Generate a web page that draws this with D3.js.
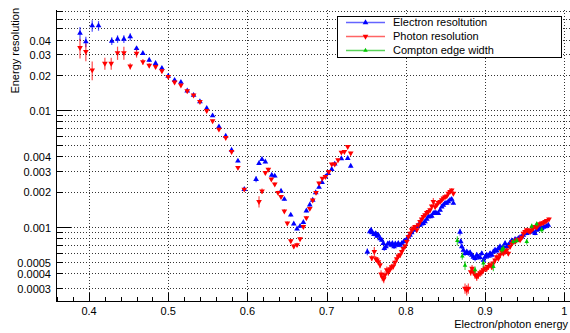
<!DOCTYPE html>
<html><head><meta charset="utf-8">
<script src="https://cdn.jsdelivr.net/npm/d3@7"></script>
<style>body{margin:0;background:#fff}svg{display:block}text{font-family:"Liberation Sans",Arial,sans-serif;fill:#000}</style>
</head><body>
<script>
// [energy, resolution, error]
const electron = [
[0.3886,0.0455,0.006],[0.396,0.0385,0.004],[0.404,0.0528,0.006],[0.412,0.0528,0.005],
[0.4287,0.039,0.003],[0.436,0.0406,0.003],[0.444,0.0406,0.003],[0.452,0.0425,0.003],
[0.460,0.0337,0.0015],[0.468,0.0306,0.001],[0.476,0.0268,0.001],[0.484,0.0251,0.001],
[0.492,0.0228,0.0008],[0.500,0.0195,0.0006],[0.508,0.0180,0.0006],[0.516,0.0173,0.0005],
[0.524,0.0146,0.0004],[0.532,0.0134,0.0004],[0.540,0.0118,0.0003],[0.5486,0.01034,0.0003],
[0.556,0.00894,0.0002],[0.564,0.00719,0.0002],[0.5726,0.00598,0.00015],[0.580,0.00454,0.0001],
[0.588,0.00366,0.0001],[0.596,0.00209,0.00006],
[0.6109,0.00255,0.00015],[0.6146,0.00349,0.0001],[0.6184,0.00378,0.0001],[0.6226,0.0036,0.0001],
[0.6307,0.00277,0.00008],[0.6345,0.00272,0.00008],[0.6424,0.00202,0.00006],[0.6466,0.00172,0.00005],
[0.6547,0.00126,0.00004],[0.6585,0.00106,0.00003],[0.6626,0.00096,0.00003],[0.6664,0.00101,0.00003],
[0.6706,0.00109,0.00003],[0.6744,0.00137,0.00004],[0.6787,0.00154,0.00004],[0.6824,0.00169,0.00005],
[0.6862,0.00196,0.00005],[0.6904,0.00218,0.00006],[0.6942,0.0024,0.00006],[0.6984,0.00268,0.00007],
[0.7021,0.00287,0.00007],[0.7064,0.0031,0.00008],[0.7102,0.00345,0.00009],[0.7186,0.00383,0.0001],
[0.7266,0.00386,0.0001],[0.7304,0.00331,0.0001],
[0.7514,0.00061,0.00004],[0.7544,0.000906,0.00004],[0.7561,0.000937,0.00003],[0.7577,0.000888,0.00003],
[0.7598,0.00086,0.00003],[0.762,0.000875,0.00003],[0.7636,0.00083,0.00003],[0.7653,0.000849,0.00003],
[0.7674,0.00079,0.00003],[0.7696,0.000769,0.00003],[0.7716,0.00072,0.00003],[0.7728,0.000652,0.00003],
[0.7749,0.000675,0.00003],[0.7771,0.000712,0.00003],[0.7792,0.00072,0.00003],[0.7813,0.000697,0.00003],
[0.783,0.00072,0.00003],[0.7851,0.000675,0.00003],[0.7867,0.000712,0.00003],[0.7889,0.000697,0.00003],
[0.7905,0.00072,0.00003],[0.7927,0.000697,0.00003],[0.7948,0.00072,0.00003],[0.7973,0.000745,0.00003],
[0.799,0.000755,0.00003],[0.8011,0.000781,0.00003],[0.8032,0.00082,0.00003],[0.8053,0.000849,0.00003],
[0.8074,0.000888,0.00003],[0.8095,0.000937,0.00003],[0.8116,0.00095,0.00003],[0.8138,0.001,0.00003],
[0.8158,0.001034,0.00003],[0.8179,0.001034,0.00003],[0.82,0.001055,0.00003],[0.8221,0.00107,0.00003],
[0.8242,0.001105,0.00003],[0.8264,0.00116,0.00003],[0.8284,0.00122,0.00004],[0.8306,0.00122,0.00004],
[0.8327,0.001235,0.00004],[0.8347,0.0013,0.00004],[0.8369,0.00132,0.00004],[0.839,0.0013,0.00004],
[0.841,0.0013,0.00004],[0.8432,0.00139,0.00004],[0.8453,0.00148,0.00004],[0.8473,0.001534,0.00004],
[0.8495,0.00159,0.00004],[0.8516,0.00159,0.00004],[0.8536,0.00164,0.00004],[0.8558,0.001694,0.00004],
[0.8579,0.00172,0.00004],[0.86,0.00159,0.00004],
[0.8684,0.0009,0.00006],[0.8693,0.000745,0.00004],[0.8706,0.000675,0.00003],[0.8726,0.000631,0.00003],
[0.8747,0.00059,0.00003],[0.8769,0.00061,0.00003],[0.8789,0.00059,0.00003],[0.8811,0.0006,0.00003],
[0.8832,0.000572,0.00003],[0.8852,0.00055,0.00003],[0.8874,0.000535,0.00003],[0.8895,0.000572,0.00003],
[0.8916,0.00055,0.00003],[0.8937,0.000545,0.00003],[0.8958,0.00059,0.00003],[0.8979,0.000518,0.00003],
[0.9,0.00055,0.00003],[0.9021,0.000572,0.00003],[0.9042,0.00056,0.00003],[0.9063,0.00059,0.00003],
[0.9085,0.000572,0.00003],[0.9105,0.00061,0.00003],[0.9126,0.000631,0.00003],[0.9148,0.00062,0.00003],
[0.9168,0.000652,0.00003],[0.9189,0.000675,0.00003],[0.9211,0.000652,0.00003],[0.9231,0.000675,0.00003],
[0.9253,0.00072,0.00003],[0.9274,0.000675,0.00003],[0.9294,0.000697,0.00003],[0.9316,0.00073,0.00003],
[0.9337,0.00076,0.00003],[0.9357,0.000745,0.00003],[0.9379,0.00078,0.00003],[0.94,0.000769,0.00003],
[0.942,0.000795,0.00003],[0.9442,0.00081,0.00003],[0.9463,0.00082,0.00003],[0.9483,0.000849,0.00003],
[0.9505,0.000875,0.00003],[0.9526,0.000875,0.00003],[0.9546,0.000888,0.00003],[0.9568,0.000906,0.00003],
[0.9589,0.000906,0.00003],[0.9609,0.000906,0.00003],[0.9631,0.000875,0.00003],[0.9652,0.000937,0.00003],
[0.9672,0.00095,0.00003],[0.9694,0.00097,0.00003],[0.9715,0.00097,0.00003],[0.9735,0.00099,0.00003],
[0.9757,0.001,0.00003],[0.9778,0.00101,0.00003],[0.9798,0.001034,0.00003]
];
const photon = [
[0.3886,0.0342,0.0066],[0.396,0.0317,0.0055],[0.404,0.022,0.004],[0.420,0.0251,0.003],
[0.428,0.0251,0.003],[0.436,0.0309,0.004],[0.444,0.0309,0.004],[0.452,0.0237,0.0015],
[0.460,0.0306,0.0025],[0.468,0.0259,0.0015],[0.476,0.0241,0.001],[0.484,0.0235,0.001],
[0.492,0.0216,0.0008],[0.500,0.0193,0.0006],[0.508,0.0173,0.0006],[0.516,0.0163,0.0005],
[0.524,0.01455,0.0004],[0.532,0.0134,0.0004],[0.540,0.0118,0.0003],[0.5486,0.00986,0.0003],
[0.556,0.00805,0.0002],[0.564,0.00683,0.0002],[0.5726,0.00579,0.00015],[0.580,0.0044,0.0001],
[0.588,0.00321,0.0001],[0.596,0.00209,0.00006],
[0.6146,0.00164,0.00018],[0.6184,0.00202,0.0001],[0.6226,0.0029,0.0001],[0.6264,0.0031,0.0001],
[0.6302,0.00255,0.00008],[0.6345,0.00231,0.00008],[0.6386,0.00196,0.00007],[0.6424,0.00181,0.00006],
[0.6466,0.00136,0.00005],[0.6504,0.00107,0.00004],[0.6547,0.000754,0.00003],[0.6585,0.00068,0.00003],
[0.6626,0.0007,0.00003],[0.6664,0.000785,0.00003],[0.6706,0.001,0.00004],[0.6744,0.00119,0.00004],
[0.6787,0.00143,0.00005],[0.6824,0.00169,0.00005],[0.6866,0.00196,0.00006],[0.6904,0.00236,0.00007],
[0.6946,0.0026,0.00007],[0.6984,0.00268,0.00008],[0.7027,0.00296,0.00009],[0.7064,0.00343,0.0001],
[0.7102,0.00343,0.0001],[0.7144,0.00373,0.00011],[0.7186,0.00434,0.00012],[0.7224,0.0044,0.00012],
[0.7266,0.00485,0.00013],[0.7304,0.00426,0.00012],
[0.757,0.00054,0.00003],[0.7602,0.00061,0.00006],[0.762,0.00053,0.00003],[0.7636,0.000518,0.00003],
[0.7653,0.0005,0.00003],[0.7674,0.00047,0.00003],[0.7687,0.000393,0.00003],[0.7703,0.00037,0.00003],
[0.7721,0.000357,0.00003],[0.7737,0.000386,0.00003],[0.7759,0.000426,0.00003],[0.7779,0.00041,0.00003],
[0.78,0.000435,0.00003],[0.7822,0.000452,0.00003],[0.7842,0.00046,0.00003],[0.7863,0.000495,0.00003],
[0.7885,0.00053,0.00003],[0.7905,0.00056,0.00003],[0.7927,0.000572,0.00003],[0.7948,0.00061,0.00003],
[0.7968,0.00065,0.00003],[0.799,0.00068,0.00003],[0.8011,0.000745,0.00004],[0.8032,0.00082,0.00004],
[0.8053,0.000875,0.00004],[0.8074,0.000937,0.00004],[0.8095,0.00097,0.00004],[0.8116,0.001,0.00004],
[0.8138,0.000937,0.00004],[0.8158,0.001034,0.00004],[0.8179,0.001105,0.00005],[0.82,0.00116,0.00005],
[0.8221,0.00122,0.00005],[0.8242,0.00126,0.00005],[0.8264,0.00132,0.00005],[0.8284,0.001345,0.00005],
[0.8306,0.00139,0.00006],[0.8327,0.0015,0.00006],[0.8347,0.00164,0.00012],[0.8369,0.00148,0.00006],
[0.839,0.001534,0.00006],[0.841,0.00161,0.00006],[0.8432,0.00164,0.00006],[0.8453,0.001694,0.00007],
[0.8473,0.00176,0.00007],[0.8495,0.0018,0.00007],[0.8516,0.00183,0.00007],[0.8536,0.00193,0.00008],
[0.8558,0.002,0.00008],[0.8579,0.00206,0.00008],[0.86,0.00193,0.00008],
[0.8747,0.000296,0.00003],[0.8769,0.000287,0.00003],[0.8789,0.000296,0.00003],[0.8819,0.00041,0.00003],
[0.8836,0.00044,0.00003],[0.8852,0.00041,0.00003],[0.8874,0.000386,0.00003],[0.8895,0.000373,0.00003],
[0.8916,0.000386,0.00003],[0.8937,0.0004,0.00003],[0.8958,0.00041,0.00003],[0.8979,0.000426,0.00003],
[0.9,0.00044,0.00003],[0.9021,0.00044,0.00003],[0.9042,0.000455,0.00003],[0.9063,0.00047,0.00003],
[0.9085,0.000455,0.00003],[0.9105,0.000487,0.00003],[0.9126,0.000518,0.00003],[0.9148,0.00055,0.00003],
[0.9168,0.000535,0.00003],[0.9189,0.000572,0.00003],[0.9211,0.00061,0.00003],[0.9231,0.00059,0.00003],
[0.9253,0.00061,0.00003],[0.9274,0.000631,0.00003],[0.9294,0.00059,0.00003],[0.9316,0.000675,0.00003],
[0.9337,0.00072,0.00003],[0.9357,0.000745,0.00003],[0.9379,0.000745,0.00003],[0.94,0.000769,0.00003],
[0.942,0.00078,0.00003],[0.9442,0.000769,0.00003],[0.9463,0.00081,0.00003],[0.9483,0.000875,0.00004],
[0.9505,0.000906,0.00004],[0.9526,0.000937,0.00004],[0.9546,0.000925,0.00004],[0.9568,0.000906,0.00004],
[0.9589,0.000937,0.00004],[0.9609,0.00097,0.00004],[0.9631,0.001,0.00004],[0.9652,0.00099,0.00004],
[0.9672,0.001034,0.00004],[0.9694,0.001055,0.00004],[0.9715,0.00107,0.00004],[0.9735,0.00108,0.00004],
[0.9757,0.001105,0.00004],[0.9778,0.001125,0.00004],[0.9807,0.00116,0.00004]
];
const compton = [
[0.865,0.00076,0.00007],[0.8713,0.00056,0.00004],[0.8747,0.000465,0.00004],[0.8874,0.000426,0.00003],
[0.8979,0.000487,0.00004],[0.9105,0.000455,0.00004],[0.9211,0.000631,0.00004],[0.9231,0.000652,0.00004],
[0.9357,0.000745,0.00004],[0.94,0.00076,0.00004],[0.9526,0.000745,0.00004],[0.9589,0.00101,0.00005],
[0.9652,0.001055,0.00005],[0.9715,0.000937,0.00005]
];
const seriesNames = ["Electron resoltution","Photon resolution","Compton edge width"];
const seriesColors = ["#0000ff","#ff0000","#00c800"];
const legendLineColors = ["#6464ff","#ff6464","#5ad25a"];
const xTickValues = [0.4,0.5,0.6,0.7,0.8,0.9,1.0];
const xTickLabels = ["0.4","0.5","0.6","0.7","0.8","0.9","1"];
const yTickValues = [0.04,0.03,0.02,0.01,0.004,0.003,0.002,0.001,0.0005,0.0004,0.0003];
const yTickLabels = ["0.04","0.03","0.02","0.01","0.004","0.003","0.002","0.001","0.0005","0.0004","0.0003"];
const xTitle = "Electron/photon energy";
const yTitle = "Energy resolution";

const W=570,H=333, L=56, R=571, T=10, B=301;
const x = d3.scaleLinear().domain([0.3583,1.0085]).range([L,R]);
const y = d3.scaleLog().domain([0.0002308,0.07193]).range([B,T]);

const svg = d3.select("body").append("svg").attr("width",W).attr("height",H);

// grid
const g = svg.append("g");
y.ticks().forEach(v=>{
  const yy=Math.round(y(v))+0.5;
  g.append("line").attr("x1",L).attr("x2",W).attr("y1",yy).attr("y2",yy)
   .attr("stroke","#333").attr("stroke-dasharray","1 2");
});
xTickValues.forEach(v=>{
  const xx=Math.round(x(v))+0.5;
  g.append("line").attr("x1",xx).attr("x2",xx).attr("y1",T).attr("y2",B)
   .attr("stroke","#333").attr("stroke-dasharray","1 2");
});

// axes
svg.append("line").attr("x1",L+0.5).attr("x2",L+0.5).attr("y1",T).attr("y2",B+0.5).attr("stroke","#000");
svg.append("line").attr("x1",L).attr("x2",W).attr("y1",B+0.5).attr("y2",B+0.5).attr("stroke","#000");
y.ticks().forEach(v=>{
  const yy=Math.round(y(v))+0.5;
  const dec = Math.abs(Math.log10(v)-Math.round(Math.log10(v)))<1e-6;
  svg.append("line").attr("x1",L).attr("x2",L+(dec?15:7)).attr("y1",yy).attr("y2",yy).attr("stroke","#000");
});
x.ticks(30).forEach(v=>{
  const xx=Math.round(x(v))+0.5;
  const maj = Math.abs(v*10-Math.round(v*10))<1e-6;
  svg.append("line").attr("x1",xx).attr("x2",xx).attr("y1",B).attr("y2",B-(maj?8:4)).attr("stroke","#000");
});
yTickValues.forEach((v,i)=>{
  svg.append("text").attr("x",51).attr("y",y(v)+1).attr("dy","0.35em").attr("text-anchor","end")
    .attr("font-size",11).text(yTickLabels[i]);
});
xTickValues.forEach((v,i)=>{
  svg.append("text").attr("x",x(v)).attr("y",315).attr("text-anchor","middle")
    .attr("font-size",11).text(xTickLabels[i]);
});
svg.append("text").attr("x",568).attr("y",328).attr("text-anchor","end").attr("font-size",11).text(xTitle);
svg.append("text").attr("transform","translate(19,8) rotate(-90)").attr("text-anchor","end")
  .attr("font-size",11).text(yTitle);

// data
const datasets=[electron,photon,compton];
const symUp = d3.symbol(d3.symbolTriangle).size(14)();
const symSmall = d3.symbol(d3.symbolTriangle).size(9)();
datasets.forEach((data,si)=>{
  const col=seriesColors[si];
  const gg=svg.append("g");
  gg.selectAll("line.err").data(data).join("line")
    .attr("x1",d=>x(d[0])).attr("x2",d=>x(d[0]))
    .attr("y1",d=>y(d[1]+d[2])).attr("y2",d=>y(Math.max(d[1]-d[2],1e-6)))
    .attr("stroke",col).attr("stroke-width",1.2).attr("opacity",0.7);
  gg.selectAll("path").data(data).join("path")
    .attr("d", si===2?symSmall:symUp)
    .attr("transform",d=>`translate(${x(d[0])},${y(d[1])})`+(si===1?" rotate(180)":""))
    .attr("fill",col);
});

// legend
const lg=svg.append("g");
lg.append("rect").attr("x",337.5).attr("y",16.5).attr("width",224).attr("height",41)
  .attr("fill","#fff").attr("stroke","#000");
const rowsY=[22.5,36.5,50.5];
seriesNames.forEach((n,i)=>{
  lg.append("line").attr("x1",346).attr("x2",385).attr("y1",rowsY[i]).attr("y2",rowsY[i])
    .attr("stroke",legendLineColors[i]).attr("stroke-width",1.5);
  lg.append("path").attr("d", i===2?symSmall:symUp)
    .attr("transform",`translate(365.5,${rowsY[i]})`+(i===1?" rotate(180)":""))
    .attr("fill",seriesColors[i]);
  lg.append("text").attr("x",393).attr("y",rowsY[i]).attr("dy","0.35em").attr("font-size",11).text(n);
});
</script>
</body></html>
